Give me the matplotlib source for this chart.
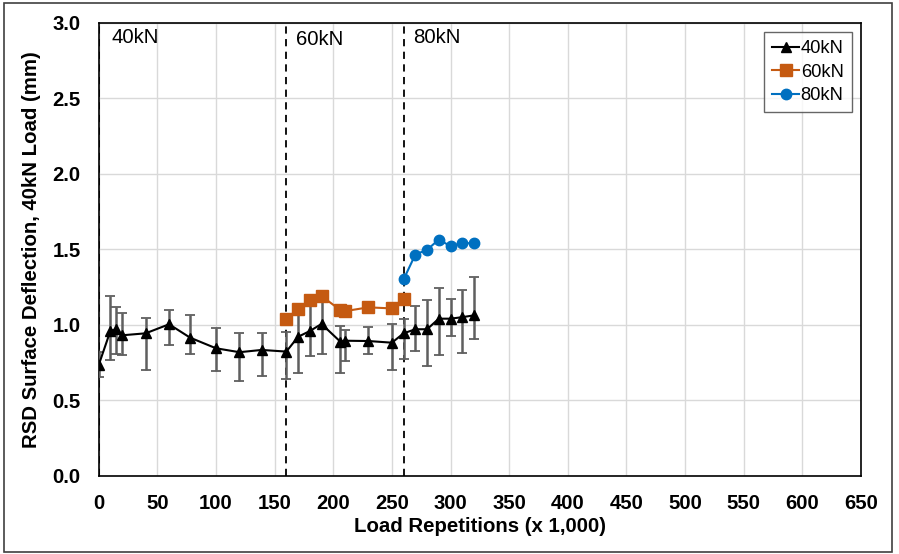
import matplotlib.pyplot as plt
from matplotlib.patches import Rectangle
import numpy as np

plt.rcParams['font.family'] = ['Liberation Sans', 'DejaVu Sans']

# 40kN load repetitions (x 1,000) with deflection and error bar ends
x40 = [0, 10, 15, 20, 40, 60, 78, 100, 120, 139, 160, 170, 180, 190, 206, 210,
       230, 250, 260, 270, 280, 290, 300, 310, 320]
y40 = [0.733, 0.96, 0.97, 0.93, 0.943, 1.003, 0.914, 0.844, 0.818, 0.833, 0.822,
       0.92, 0.958, 1.005, 0.888, 0.894, 0.892, 0.881, 0.943, 0.97, 0.97, 1.04,
       1.04, 1.05, 1.062]
top40 = [0.82, 1.19, 1.12, 1.08, 1.044, 1.10, 1.066, 0.976, 0.947, 0.943, 0.954,
         1.064, 1.163, 1.19, 0.99, 0.965, 0.985, 1.005, 1.037, 1.124, 1.163, 1.242,
         1.168, 1.229, 1.313]
bot40 = [0.656, 0.767, 0.806, 0.80, 0.70, 0.868, 0.808, 0.694, 0.63, 0.663, 0.641,
         0.683, 0.795, 0.804, 0.683, 0.762, 0.804, 0.698, 0.775, 0.828, 0.727, 0.80,
         0.925, 0.811, 0.903]

x60 = [160, 170, 180, 190, 206, 210, 230, 250, 260]
y60 = [1.037, 1.106, 1.163, 1.19, 1.097, 1.09, 1.115, 1.108, 1.17]

x80 = [260, 270, 280, 290, 300, 310, 320]
y80 = [1.30, 1.465, 1.496, 1.564, 1.52, 1.542, 1.538]

stage_x = [0, 160, 260]
stage_labels = ['40kN', '60kN', '80kN']
label_pos = [(11, 2.9), (168, 2.89), (268, 2.905)]

fig = plt.figure(figsize=(8.99, 5.54), dpi=100)
ax = fig.add_axes([0.1098, 0.1413, 0.8479, 0.8177])

# Outer border of the chart
fig.patches.append(Rectangle((0.004, 0.004), 0.988, 0.99, transform=fig.transFigure,
                             fill=False, edgecolor='#404040', linewidth=1.2))

y40a = np.array(y40)
yerr = [y40a - np.array(bot40), np.array(top40) - y40a]
ax.errorbar(x40, y40, yerr=yerr, fmt='none', ecolor='#5f5f5f', elinewidth=1.8,
            capsize=3.5, capthick=1.3, zorder=3)
ax.plot(x40, y40, color='black', marker='^', markersize=7, linewidth=1.5,
        label='40kN', zorder=4)
ax.plot(x60, y60, color='#C55A11', marker='s', markersize=8, linewidth=1.5,
        label='60kN', zorder=4)
ax.plot(x80, y80, color='#0070C0', marker='o', markersize=7.5, linewidth=1.5,
        label='80kN', zorder=4)

for sx in stage_x:
    ax.plot([sx, sx], [0, 3], color='black', linestyle=(0, (4, 3)), linewidth=1.3, zorder=2)
for lab, (lx, ly) in zip(stage_labels, label_pos):
    ax.text(lx, ly, lab, fontsize=14.7, va='center', ha='left')

ax.set_xlim(0, 650)
ax.set_ylim(0, 3.0)
ax.set_xticks(np.arange(0, 651, 50))
ax.set_yticks(np.arange(0, 3.01, 0.5))
ax.set_yticklabels([f'{v:.1f}' for v in np.arange(0, 3.01, 0.5)])
ax.grid(True, color='#d9d9d9', linewidth=1.0, zorder=0)
ax.set_axisbelow(True)
ax.tick_params(length=0, labelsize=14.6)
ax.tick_params(axis='x', pad=13)
ax.tick_params(axis='y', pad=13)
for lbl in ax.get_xticklabels() + ax.get_yticklabels():
    lbl.set_fontweight('bold')
for sp in ax.spines.values():
    sp.set_color('black')
    sp.set_linewidth(1.2)

ax.set_xlabel('Load Repetitions (x 1,000)', fontsize=14.7, fontweight='bold', labelpad=3)
ax.set_ylabel('RSD Surface Deflection, 40kN Load (mm)', fontsize=14.7,
              fontweight='bold', labelpad=8)

leg = ax.legend(loc='upper right', fontsize=13.2, frameon=True, fancybox=False,
                edgecolor='#404040', borderaxespad=0.5, handlelength=1.45,
                handletextpad=0.1, labelspacing=0.35, borderpad=0.45)
leg.get_frame().set_linewidth(1.0)

fig.savefig('out.png', dpi=100)
